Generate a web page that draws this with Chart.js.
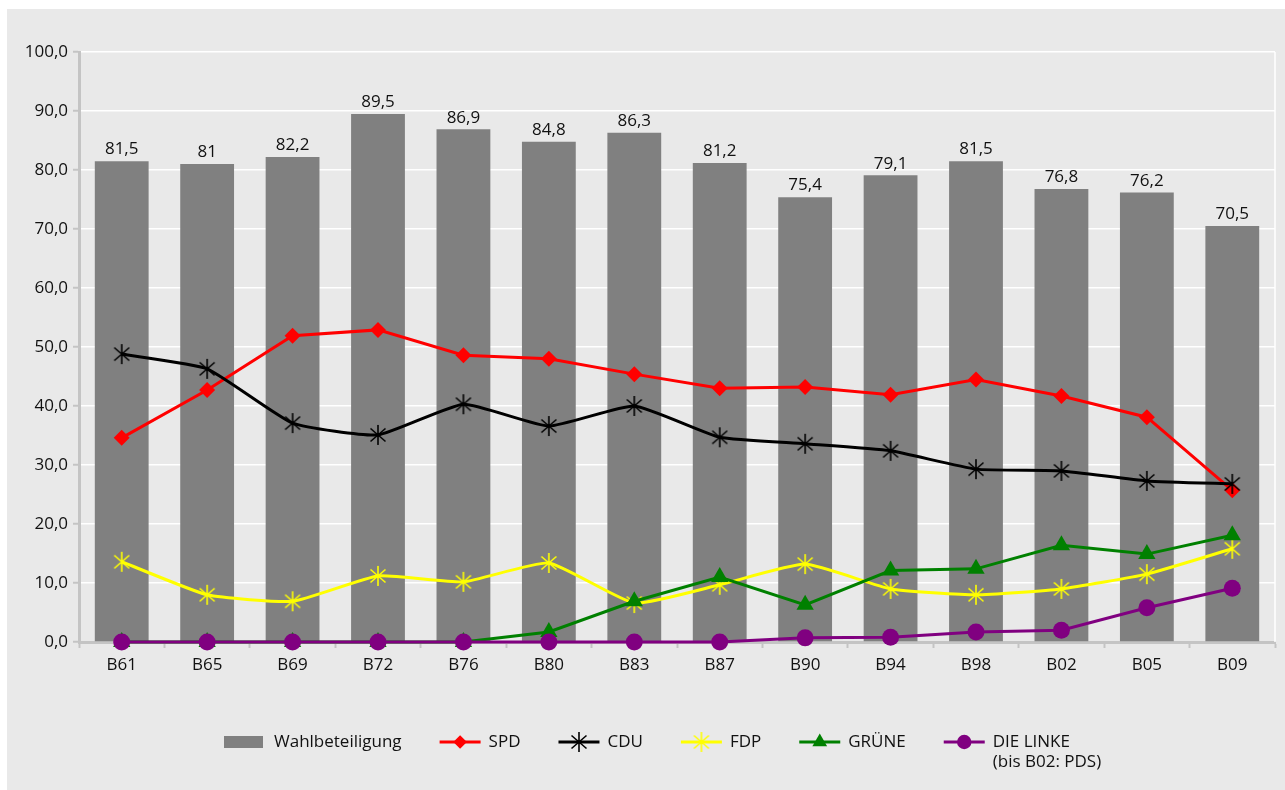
<!DOCTYPE html>
<html>
<head>
<meta charset="utf-8">
<script src="https://cdn.jsdelivr.net/npm/chart.js@4"></script>
<style>
  html, body { margin: 0; padding: 0; background: #fff; }
  #panel { position: absolute; left: 7px; top: 9px; width: 1278px; height: 781px; background: #e9e9e9; }
</style>
</head>
<body>
<div id="panel"><canvas id="wahlChart"></canvas></div>
<script>
// Daten
const wahlen = ['B61', 'B65', 'B69', 'B72', 'B76', 'B80', 'B83', 'B87', 'B90', 'B94', 'B98', 'B02', 'B05', 'B09'];
const wahlbeteiligung = [81.5, 81, 82.2, 89.5, 86.9, 84.8, 86.3, 81.2, 75.4, 79.1, 81.5, 76.8, 76.2, 70.5];
const spd = [34.6, 42.7, 51.9, 52.9, 48.6, 48.0, 45.4, 43.0, 43.2, 41.9, 44.5, 41.7, 38.1, 25.7];
const cdu = [48.8, 46.3, 37.1, 35.1, 40.3, 36.6, 40.0, 34.7, 33.6, 32.4, 29.3, 29.0, 27.3, 26.8];
const fdp = [13.6, 8.0, 6.9, 11.2, 10.2, 13.4, 6.6, 9.7, 13.2, 9.0, 8.0, 9.0, 11.5, 15.8];
const gruene = [0, 0, 0, 0, 0, 1.7, 6.9, 11.0, 6.3, 12.1, 12.4, 16.4, 14.9, 18.1];
const linke = [0, 0, 0, 0, 0, 0, 0, 0, 0.7, 0.8, 1.7, 2.0, 5.8, 9.1];
const yTicks = [0, 10, 20, 30, 40, 50, 60, 70, 80, 90, 100];

const FONT = '"Open Sans", sans-serif';
const TEXT = '#111111';

function komma(v, stellen) {
    const s = stellen === undefined ? String(v) : v.toFixed(stellen);
    return s.replace('.', ',');
}

// Stern-Marker wie in Excel (senkrecht + X)
function sternMarker(farbe) {
    const c = document.createElement('canvas');
    c.width = 22; c.height = 22;
    const g = c.getContext('2d');
    g.strokeStyle = farbe;
    g.lineWidth = 1.6;
    g.beginPath();
    g.moveTo(11, 1); g.lineTo(11, 21);
    g.moveTo(3.5, 4.5); g.lineTo(18.5, 17.5);
    g.moveTo(18.5, 4.5); g.lineTo(3.5, 17.5);
    g.stroke();
    return c;
}

function linie(label, data, farbe, style, radius, order, tension) {
    return {
        type: 'line',
        label: label,
        data: data,
        borderColor: farbe,
        backgroundColor: farbe,
        borderWidth: 3,
        pointStyle: style,
        pointRadius: radius,
        pointHoverRadius: radius,
        pointBorderWidth: 0,
        tension: tension || 0,
        clip: false,
        order: order
    };
}

const datasets = [
    {
        type: 'bar',
        label: 'Wahlbeteiligung',
        data: wahlbeteiligung,
        backgroundColor: '#808080',
        barPercentage: 0.63,
        categoryPercentage: 1,
        order: 10
    },
    linie('SPD', spd, '#ff0000', 'rectRot', 8, 5),
    linie('CDU', cdu, '#000000', sternMarker('#000000'), 10, 4, 0.15),
    linie('FDP', fdp, '#ffff00', sternMarker('#ffff00'), 10, 3, 0.15),
    linie('GRÜNE', gruene, '#008000', 'triangle', 10, 2),
    linie('DIE LINKE', linke, '#800080', 'circle', 8.5, 1)
];
datasets[5].legendText = ['DIE LINKE', '(bis B02: PDS)'];

// weisse Rahmenlinie rechts am Plotbereich
const rahmen = {
    id: 'rahmen',
    beforeDatasetsDraw(chart) {
        const a = chart.chartArea;
        const ctx = chart.ctx;
        ctx.save();
        ctx.strokeStyle = '#ffffff';
        ctx.lineWidth = 1.5;
        ctx.beginPath();
        ctx.moveTo(a.right, a.top);
        ctx.lineTo(a.right, a.bottom);
        ctx.stroke();
        ctx.restore();
    }
};

// Werte über den Balken
const balkenWerte = {
    id: 'balkenWerte',
    afterDatasetsDraw(chart) {
        const ctx = chart.ctx;
        const meta = chart.getDatasetMeta(0);
        ctx.save();
        ctx.font = '17px ' + FONT;
        ctx.fillStyle = TEXT;
        ctx.textAlign = 'center';
        ctx.textBaseline = 'bottom';
        meta.data.forEach(function(bar, i) {
            ctx.fillText(komma(wahlbeteiligung[i]), bar.x, bar.y - 3);
        });
        ctx.restore();
    }
};

// Legende unten
const legende = {
    id: 'legende',
    afterDraw(chart) {
        const ctx = chart.ctx;
        let x = 217;
        const y = 733;
        ctx.save();
        ctx.font = '17px ' + FONT;
        ctx.textBaseline = 'middle';
        chart.data.datasets.forEach(function(ds) {
            if (ds.type === 'bar') {
                ctx.fillStyle = ds.backgroundColor;
                ctx.fillRect(x, y - 6, 39, 12);
                x += 50;
            } else {
                ctx.strokeStyle = ds.borderColor;
                ctx.lineWidth = 3;
                ctx.beginPath();
                ctx.moveTo(x, y); ctx.lineTo(x + 41, y);
                ctx.stroke();
                ctx.fillStyle = ds.backgroundColor;
                Chart.helpers.drawPoint(ctx, {
                    pointStyle: ds.pointStyle,
                    radius: ds.pointRadius * 0.85,
                    rotation: 0,
                    borderWidth: 0
                }, x + 20.5, y);
                x += 49;
            }
            ctx.fillStyle = TEXT;
            const zeilen = ds.legendText || [ds.label];
            let breite = 0;
            zeilen.forEach(function(t, k) {
                ctx.fillText(t, x, y + k * 20);
                breite = Math.max(breite, ctx.measureText(t).width);
            });
            x += breite + 38;
        });
        ctx.restore();
    }
};

new Chart(document.getElementById('wahlChart'), {
    data: { labels: wahlen, datasets: datasets },
    options: {
        responsive: true,
        maintainAspectRatio: false,
        animation: false,
        layout: { padding: { top: 43, right: 9, left: 0, bottom: 0 } },
        plugins: {
            legend: { display: false },
            tooltip: { enabled: false }
        },
        scales: {
            x: {
                offset: true,
                afterFit: function(scale) { scale.height = 148; },
                grid: {
                    display: true,
                    offset: true,
                    drawOnChartArea: false,
                    drawTicks: true,
                    tickLength: 6,
                    tickColor: '#c4c4c4',
                    tickWidth: 2
                },
                border: { display: true, color: '#c4c4c4', width: 3 },
                ticks: { color: TEXT, font: { family: FONT, size: 17 }, padding: 7 }
            },
            y: {
                min: 0,
                max: 100,
                afterFit: function(scale) { scale.width = 72; },
                afterBuildTicks: function(scale) {
                    scale.ticks = yTicks.map(function(v) { return { value: v }; });
                },
                grid: {
                    color: '#ffffff',
                    lineWidth: 1.5,
                    drawTicks: true,
                    tickLength: 6,
                    tickColor: '#c4c4c4',
                    tickWidth: 2
                },
                border: { display: true, color: '#c4c4c4', width: 3 },
                ticks: {
                    color: TEXT,
                    font: { family: FONT, size: 17 },
                    padding: 5,
                    callback: function(v) { return komma(v, 1); }
                }
            }
        }
    },
    plugins: [rahmen, balkenWerte, legende]
});
</script>
</body>
</html>
